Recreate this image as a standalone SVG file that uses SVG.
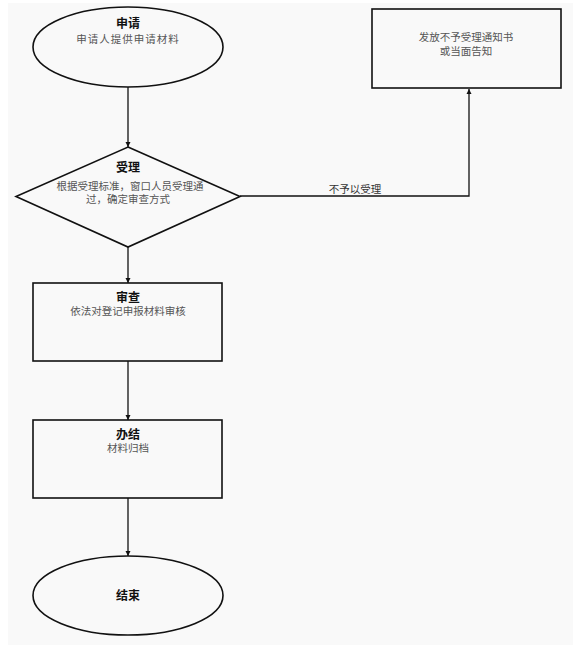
<svg xmlns="http://www.w3.org/2000/svg" width="577" height="650" viewBox="0 0 577 650">
<style>
.shape{fill:none;stroke:#111;stroke-width:1.6}
.conn{fill:none;stroke:#111;stroke-width:1.3}
text{font-family:"Liberation Serif","Noto Sans CJK SC",serif;text-anchor:middle}
.t{font-size:12px;font-weight:bold;fill:#111}
.s{font-size:10.5px;fill:#555}
</style>
<defs>
<marker id="ah" viewBox="0 0 8 8" refX="8" refY="4" markerWidth="4" markerHeight="4" orient="auto">
<path d="M0,0 L8,4 L0,8 Z" fill="#111"/>
</marker>
</defs>
<rect x="0" y="0" width="577" height="650" fill="#ffffff"/>
<rect x="8" y="3" width="565" height="642" fill="#f9f9f9"/>
<g id="connectors">
<line class="conn" x1="128" y1="87" x2="128" y2="147" marker-end="url(#ah)"/>
<polyline class="conn" points="240,196 469,196 469,89" marker-end="url(#ah)"/>
<text class="s" x="355" y="193" style="fill:#333">不予以受理</text>
<line class="conn" x1="128" y1="247" x2="128" y2="283" marker-end="url(#ah)"/>
<line class="conn" x1="128" y1="361" x2="128" y2="420" marker-end="url(#ah)"/>
<line class="conn" x1="128" y1="498" x2="128" y2="556" marker-end="url(#ah)"/>
</g>
<g id="apply">
<ellipse class="shape" cx="128" cy="47" rx="95" ry="40"/>
<text class="t" x="128" y="28">申请</text>
<text class="s" x="128" y="43" letter-spacing="1">申请人提供申请材料</text>
</g>
<g id="accept">
<polygon class="shape" points="128,147 240,196.5 128,247 16,196.5"/>
<text class="t" x="128" y="172">受理</text>
<text class="s" x="130" y="190">根据受理标准，窗口人员受理通</text>
<text class="s" x="128" y="203">过，确定审查方式</text>
</g>
<g id="reject">
<rect class="shape" x="372" y="9" width="189" height="79"/>
<text class="s" x="466" y="41">发放不予受理通知书</text>
<text class="s" x="466" y="55">或当面告知</text>
</g>
<g id="review">
<rect class="shape" x="33" y="283" width="189" height="78"/>
<text class="t" x="128" y="302">审查</text>
<text class="s" x="128" y="315">依法对登记申报材料审核</text>
</g>
<g id="finish">
<rect class="shape" x="33" y="420" width="189" height="78"/>
<text class="t" x="128" y="439">办结</text>
<text class="s" x="128" y="452">材料归档</text>
</g>
<g id="end">
<ellipse class="shape" cx="128" cy="595.5" rx="95" ry="39.5"/>
<text class="t" x="128" y="599.5">结束</text>
</g>
</svg>
